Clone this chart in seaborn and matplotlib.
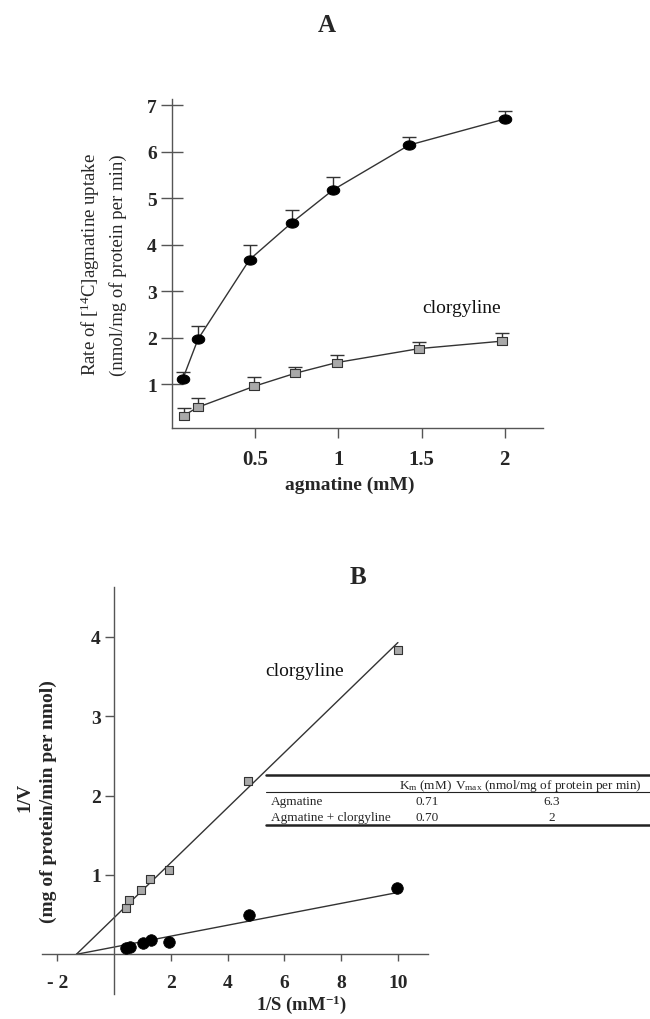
import numpy as np
import pandas as pd
import matplotlib
matplotlib.use("Agg")
import matplotlib.pyplot as plt
from matplotlib.path import Path
from matplotlib.lines import Line2D
import seaborn as sns

# ---------------- data: panel A ----------------
ag_x = [0.064, 0.156, 0.466, 0.719, 0.969, 1.425, 2.0]
ag_y = [1.11, 1.97, 3.68, 4.47, 5.18, 6.14, 6.70]
ag_top = [1.27, 2.25, 3.99, 4.75, 5.46, 6.31, 6.87]

cl_x = [0.07, 0.156, 0.494, 0.741, 0.991, 1.487, 1.986]
cl_y = [0.33, 0.51, 0.96, 1.24, 1.47, 1.77, 1.93]
cl_top = [0.49, 0.70, 1.16, 1.38, 1.64, 1.91, 2.10]

a_xticks = [0.5, 1, 1.5, 2]
a_xticklabels = ["0.5", "1", "1.5", "2"]
a_yticks = [1, 2, 3, 4, 5, 6, 7]

# ---------------- data: panel B ----------------
b_ag_x = [0.42, 0.56, 1.01, 1.30, 1.94, 4.77, 9.98]
b_ag_y = [0.076, 0.097, 0.14, 0.18, 0.16, 0.50, 0.83]
b_cl_x = [0.42, 0.53, 0.96, 1.27, 1.94, 4.73, 10.0]
b_cl_y = [0.59, 0.685, 0.81, 0.945, 1.06, 2.19, 3.83]

fit_x = [-1.33, 10.0]
fit_ag_y = [0.0, 0.78]
fit_cl_y = [0.0, 3.93]

b_xticks = [-2, 2, 4, 6, 8, 10]
b_xticklabels = ["- 2", "2", "4", "6", "8", "10"]
b_yticks = [1, 2, 3, 4]

tbl_rows = ["Agmatine", "Agmatine + clorgyline"]
tbl_km = ["0.71", "0.70"]
tbl_vmax = ["6.3", "2"]

# ---------------- style ----------------
sns.set_theme(style="ticks")
plt.rcParams["font.family"] = ["Liberation Serif", "DejaVu Serif"]
plt.rcParams["mathtext.fontset"] = "custom"
plt.rcParams["mathtext.rm"] = "Liberation Serif"
plt.rcParams["mathtext.bf"] = "Liberation Serif:bold"
plt.rcParams["mathtext.it"] = "Liberation Serif:italic"

AX = "#555555"
LN = "#333333"
GRAY = "#a9a9a9"

t = np.linspace(0, 2 * np.pi, 40)
ellipse = Path(np.column_stack([1.35 * np.cos(t), np.sin(t)]), closed=True)
rect = Path([(-1.3, -1), (1.3, -1), (1.3, 1), (-1.3, 1), (-1.3, -1)], closed=True)

fig = plt.figure(figsize=(6.5, 10.2), dpi=100)
W, H = 650.0, 1020.0
axA = fig.add_axes([172 / W, 1 - 429 / H, (543 - 172) / W, (429 - 100) / H])
axB = fig.add_axes([42 / W, 1 - 995 / H, (428 - 42) / W, (995 - 588) / H])

# ---------------- panel A ----------------
dfA = pd.DataFrame({"x": ag_x, "y": ag_y})
dfC = pd.DataFrame({"x": cl_x, "y": cl_y})

for xs, ys, tops in [(ag_x, ag_y, ag_top), (cl_x, cl_y, cl_top)]:
    up = np.array(tops) - np.array(ys)
    eb = axA.errorbar(xs, ys, yerr=[np.zeros(len(xs)), up], fmt="none",
                      ecolor=LN, elinewidth=1.0, capsize=5.2, capthick=1.0, zorder=2)
    caps = eb.lines[1]
    if len(caps) >= 2:
        caps[0].set_visible(False)

sns.lineplot(data=dfA, x="x", y="y", ax=axA, color=LN, lw=1.0, estimator=None,
             marker=ellipse, markersize=9, markerfacecolor="black",
             markeredgecolor="black", zorder=3)
sns.lineplot(data=dfC, x="x", y="y", ax=axA, color=LN, lw=1.0, estimator=None,
             marker=rect, markersize=7.5, markerfacecolor=GRAY,
             markeredgecolor=LN, markeredgewidth=0.8, zorder=3)

axA.set_xlim(0, 2.23)
axA.set_ylim(0.064, 7.13)
axA.set_xticks(a_xticks)
axA.set_xticklabels(a_xticklabels, fontweight="bold", fontsize=15)
axA.set_yticks(a_yticks)
axA.set_yticklabels([str(v) for v in a_yticks], fontweight="bold", fontsize=14)
axA.tick_params(axis="y", direction="inout", length=16, width=1, color=AX, pad=3)
axA.tick_params(axis="x", direction="out", length=7, width=1, color=AX, pad=8)
for s in ["top", "right"]:
    axA.spines[s].set_visible(False)
for s in ["left", "bottom"]:
    axA.spines[s].set_color(AX)
    axA.spines[s].set_linewidth(1.0)
axA.set_xlabel("")
axA.set_ylabel("")
axA.text(1.74, 2.65, "clorgyline", fontsize=14, ha="center", va="center", color="#111")

fig.text(327 / W, 1 - 25 / H, "A", fontsize=18, fontweight="bold", ha="center", va="center")
fig.text(350 / W, 1 - 485 / H, "agmatine (mM)", fontsize=14, fontweight="bold",
         ha="center", va="center")
fig.text(90 / W, 1 - 265 / H, r"Rate of [$^{14}$C]agmatine uptake", fontsize=13.5,
         rotation=90, ha="center", va="center")
fig.text(118 / W, 1 - 265 / H, "(nmol/mg of protein per min)", fontsize=13.5,
         rotation=90, ha="center", va="center")

# ---------------- panel B ----------------
dfBa = pd.DataFrame({"x": b_ag_x, "y": b_ag_y})
dfBc = pd.DataFrame({"x": b_cl_x, "y": b_cl_y})
dfFa = pd.DataFrame({"x": fit_x, "y": fit_ag_y})
dfFc = pd.DataFrame({"x": fit_x, "y": fit_cl_y})

sns.lineplot(data=dfFa, x="x", y="y", ax=axB, color=LN, lw=1.0, estimator=None, zorder=2)
sns.lineplot(data=dfFc, x="x", y="y", ax=axB, color=LN, lw=1.0, estimator=None, zorder=2)
sns.scatterplot(data=dfBa, x="x", y="y", ax=axB, marker="o", s=70, color="black",
                edgecolor="black", linewidth=0.5, zorder=3)
sns.scatterplot(data=dfBc, x="x", y="y", ax=axB, marker="s", s=40, color=GRAY,
                edgecolor=LN, linewidth=0.8, zorder=3)

axB.set_xlim(-2.54, 11.06)
axB.set_ylim(-0.5, 4.63)
axB.spines["left"].set_position(("data", 0))
axB.spines["bottom"].set_position(("data", 0))
for s in ["top", "right"]:
    axB.spines[s].set_visible(False)
for s in ["left", "bottom"]:
    axB.spines[s].set_color(AX)
    axB.spines[s].set_linewidth(1.0)
axB.set_xticks(b_xticks)
axB.set_xticklabels(b_xticklabels, fontweight="bold", fontsize=14)
axB.set_yticks(b_yticks)
axB.set_yticklabels([str(v) for v in b_yticks], fontweight="bold", fontsize=14)
axB.tick_params(axis="x", direction="out", length=5, width=1, color=AX, pad=9)
axB.tick_params(axis="y", direction="out", length=6.5, width=1, color=AX, pad=3)
axB.set_xlabel("")
axB.set_ylabel("")
axB.text(6.7, 3.58, "clorgyline", fontsize=14, ha="center", va="center", color="#111")

fig.text(358 / W, 1 - 577 / H, "B", fontsize=18, fontweight="bold", ha="center", va="center")
fig.text(302 / W, 1 - 1005 / H, r"1/S (mM$^{\mathbf{-1}}$)", fontsize=13.5, fontweight="bold",
         ha="center", va="center")
fig.text(25 / W, 1 - 797 / H, "1/V", fontsize=14, fontweight="bold",
         rotation=90, ha="center", va="center")
fig.text(48 / W, 1 - 802 / H, "(mg of protein/min per nmol)", fontsize=14, fontweight="bold",
         rotation=90, ha="center", va="center")

# ---------------- table ----------------
x0, x1 = 266 / W, 1.0
for yy, lw in [(776, 1.8), (793, 0.8), (826, 1.8)]:
    fig.add_artist(Line2D([x0, x1], [1 - yy / H, 1 - yy / H], color="#222", lw=lw,
                          transform=fig.transFigure))
fs = 9.5
fig.text(425 / W, 1 - 786 / H, r"K$_{\rm m}$ (mM)", fontsize=fs, ha="center", va="center")
fig.text(455 / W, 1 - 786 / H, r"V$_{\rm max}$ (nmol/mg of protein per min)", fontsize=fs,
         ha="left", va="center")
for i, (r, k, v) in enumerate(zip(tbl_rows, tbl_km, tbl_vmax)):
    yy = 1 - (802 + 16 * i) / H
    fig.text(271 / W, yy, r, fontsize=fs, ha="left", va="center")
    fig.text(427 / W, yy, k, fontsize=fs, ha="center", va="center")
    fig.text(552 / W, yy, v, fontsize=fs, ha="center", va="center")

fig.savefig("out.png", dpi=100)
